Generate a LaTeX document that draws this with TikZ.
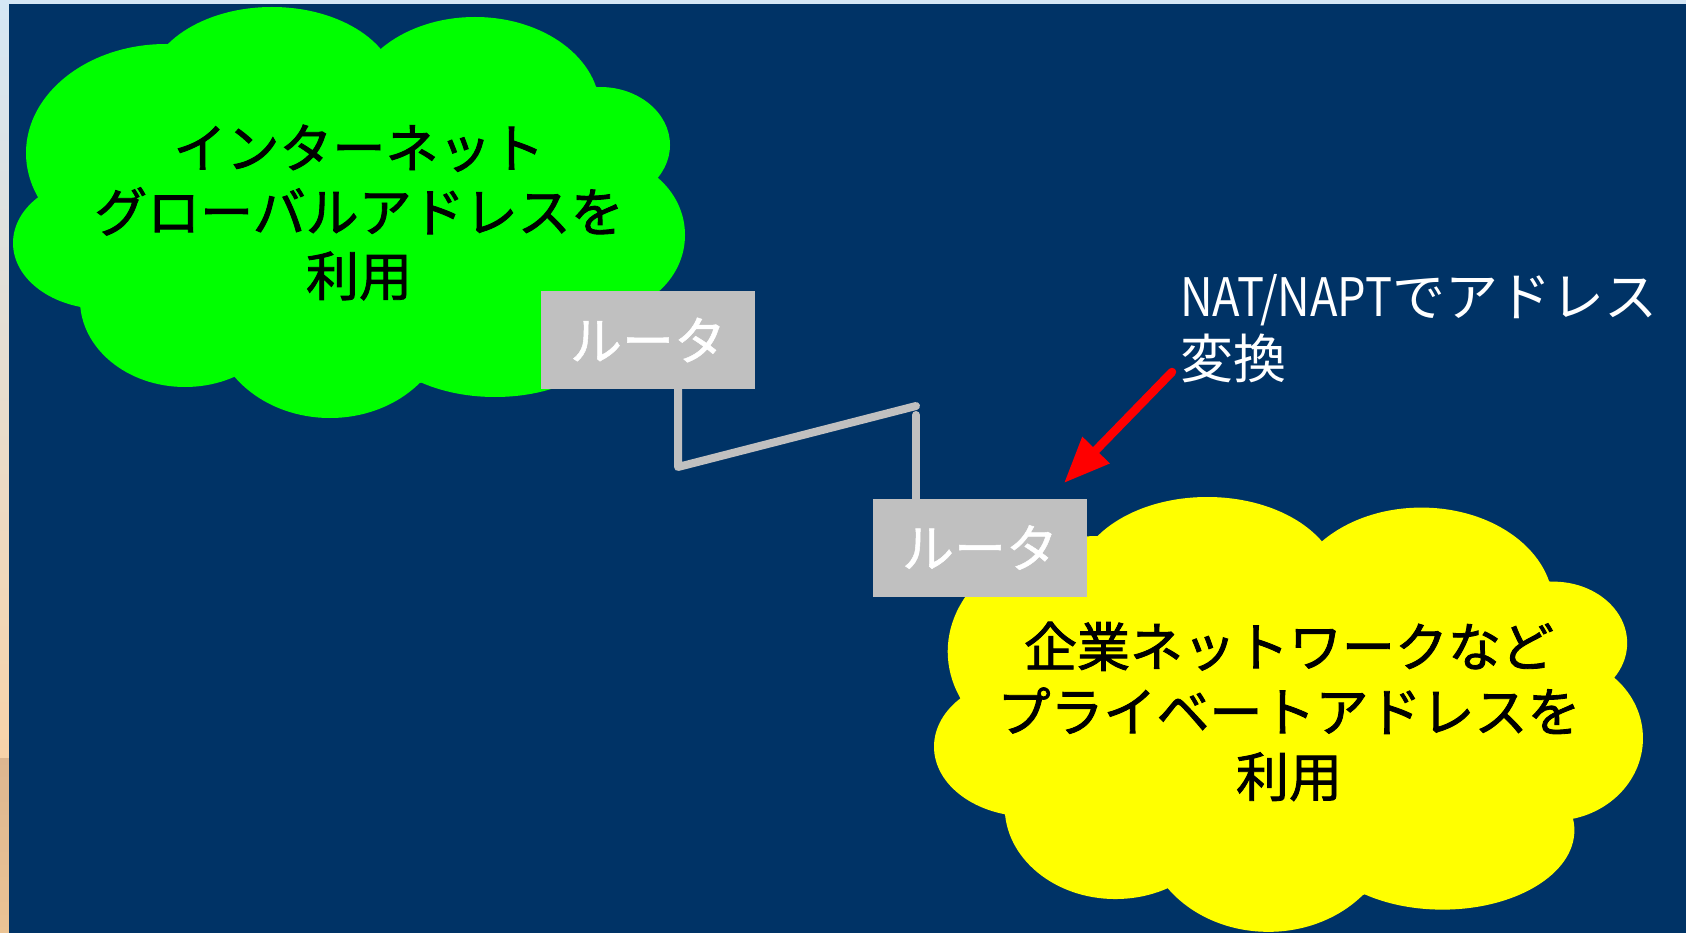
\documentclass[tikz,border=0pt]{standalone}
\usepackage{fontspec}
\usepackage{graphicx}
\newfontfamily\jp{Noto Sans CJK JP}
\newfontfamily\jpb{Noto Sans CJK JP}[FakeBold=1.6]
\newfontfamily\jpm{Noto Sans CJK JP}[FakeBold=1.0]
\usetikzlibrary{arrows.meta}
\definecolor{navy}{HTML}{003366}
\definecolor{cgreen}{HTML}{00FF00}
\definecolor{cyellow}{HTML}{FFFF00}
\definecolor{silver}{HTML}{C0C0C0}
\definecolor{stripA}{HTML}{D5E7F5}
\definecolor{stripB}{HTML}{F8D3A9}
\definecolor{stripC}{HTML}{DDB690}
\definecolor{stripD}{HTML}{EBC495}
\newcommand{\mycloud}[1]{%
 \fill[#1] (155,63) -- (376,52) -- (597,87) -- (656,178) -- (613,301) -- (420,383) -- (237,375) -- (80,307) -- (38,197) -- cycle;
 \fill[#1] (272,90) ellipse [x radius=125, y radius=83];
 \fill[#1] (475,110) ellipse [x radius=125, y radius=93];
 \fill[#1] (600,145) ellipse [x radius=70, y radius=58];
 \fill[#1] (600,235) ellipse [x radius=85, y radius=78];
 \fill[#1] (495,322) ellipse [x radius=125, y radius=75];
 \fill[#1] (330,318) ellipse [x radius=118, y radius=100];
 \fill[#1] (185,300) ellipse [x radius=105, y radius=87];
 \fill[#1] (103,243) ellipse [x radius=90, y radius=66];
 \fill[#1] (166,153) ellipse [x radius=140, y radius=109];
}
\begin{document}
\begin{tikzpicture}[x=1pt,y=-1pt,
  cloudtext/.style={font=\jpb\fontsize{53}{64}\selectfont, text=black, align=center, inner sep=0pt},
  router/.style={fill=silver, minimum width=214pt, minimum height=98pt, inner sep=0pt,
     font=\jpm\fontsize{52}{60}\selectfont, text=white},
  link/.style={draw=silver, line width=8pt, line cap=round, line join=round},
  redarrow/.style={draw=red, line width=8.5pt, line cap=round, -{Triangle[length=46pt,width=36pt]}},
  label/.style={font=\jp\fontsize{53}{62}\selectfont, text=white, align=left, inner sep=0pt}]
\useasboundingbox (0,0) rectangle (1686,933);
% frame
\fill[stripA] (0,0) rectangle (1686,4);
\shade[top color=stripA, bottom color=stripB] (0,0) rectangle (9,758);
\shade[top color=stripC, bottom color=stripD] (0,758) rectangle (9,933);
\fill[navy] (9,4) rectangle (1686,933);
% clouds
\mycloud{cgreen}
\begin{scope}[shift={(920.285,489.594)}, xscale=1.055, yscale=1.058]
\mycloud{cyellow}
\end{scope}
\node[cloudtext] (inet) at (359,212.5) {インターネット\\グローバルアドレスを\\利用};
\node[cloudtext, font=\jpb\fontsize{53}{65}\selectfont] (corp) at (1289,711.5) {企業ネットワークなど\\プライベートアドレスを\\利用};
% routers
\node[router] (r1) at (648,340) {ルータ};
\node[router] (r2) at (980,547.5) {ルータ};
% links
\coordinate (c1) at (678,467);
\coordinate (c2) at (916,406);
\coordinate (c3) at (916,415);
\draw[link] (c1 |- r1.south) -- (c1) -- (c2);
\draw[link] (c3) -- (c3 |- r2.north);
% NAT label
\node[label, anchor=west] (nat) at (1180,329) {\resizebox{212pt}{\height}{NAT/NAPT}でアドレス\\変換};
\coordinate (a1) at (1172,372);
\coordinate (a2) at (1064,483);
\draw[redarrow] (a1) -- (a2);
\end{tikzpicture}
\end{document}
